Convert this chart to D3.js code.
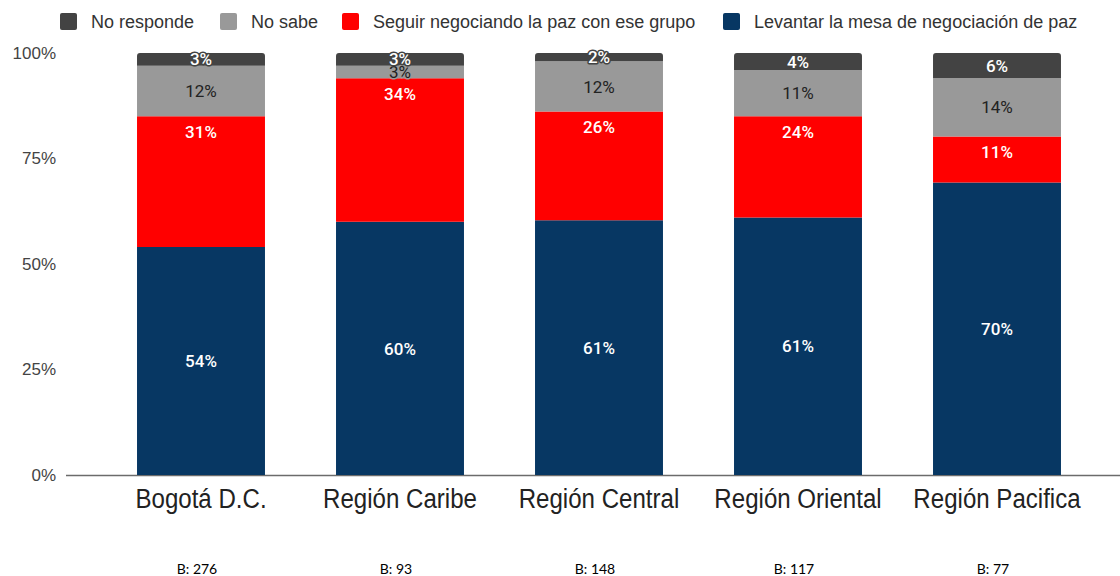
<!DOCTYPE html>
<html><head><meta charset="utf-8">
<script src="https://cdn.jsdelivr.net/npm/d3@7"></script>
<style>body{margin:0;background:#fff}</style>
</head><body><svg id="c" width="1120" height="576"></svg>
<script>
const categories = ["Bogotá D.C.","Región Caribe","Región Central","Región Oriental","Región Pacifica"];
const bases = ["B: 276","B: 93","B: 148","B: 117","B: 77"];
const seriesNames = ["Levantar la mesa de negociación de paz","Seguir negociando la paz con ese grupo","No sabe","No responde"];
const levantar = [54,60,61,61,70];
const seguir = [31,34,26,24,11];
const noSabe = [12,3,12,11,14];
const noResponde = [3,3,2,4,6];
const yTicks = [0,0.25,0.5,0.75,1];

const colors = ["#073763","#ff0000","#999999","#434343"];
const labelColors = ["#ffffff","#ffffff","#222222","#ffffff"];
const seriesValues = [levantar, seguir, noSabe, noResponde];
const keys = ["s0","s1","s2","s3"];

const rows = categories.map((c,i)=>{
  const r = {cat:c};
  keys.forEach((k,j)=> r[k] = seriesValues[j][i]);
  return r;
});

const svg = d3.select("#c");
const y = d3.scaleLinear().domain([0,1]).range([475,53]);
const x = d3.scaleBand().domain(categories).range([101.5,1096.5]).paddingInner(0.357).paddingOuter(0.1785);

const stack = d3.stack().keys(keys).offset(d3.stackOffsetExpand);
const series = stack(rows);

// baseline
svg.append("line").attr("x1",66).attr("x2",1120).attr("y1",y(0)+0.5).attr("y2",y(0)+0.5)
  .attr("stroke","#6b6b6b").attr("stroke-width",1.5);

// y axis labels
const yAxis = d3.axisLeft(y).tickValues(yTicks).tickFormat(d3.format(".0%")).tickSize(0).tickPadding(0);
const ga = svg.append("g").attr("transform","translate(56,0)").call(yAxis);
ga.select(".domain").remove();
ga.selectAll("text").attr("font-family","'Liberation Sans', Arial, sans-serif").attr("font-size",17).attr("fill","#444");

function topRounded(x0,y0,w,h,r){
  return `M${x0},${y0+h}V${y0+r}Q${x0},${y0} ${x0+r},${y0}H${x0+w-r}Q${x0+w},${y0} ${x0+w},${y0+r}V${y0+h}Z`;
}

series.forEach((s,si)=>{
  svg.append("g").selectAll("path").data(s).join("path")
    .attr("d", d => {
      const x0 = x(d.data.cat), w = x.bandwidth();
      const yt = y(d[1]), yb = y(d[0]);
      if (si === keys.length-1) return topRounded(x0,yt,w,yb-yt,3);
      return `M${x0},${yt}H${x0+w}V${yb}H${x0}Z`;
    })
    .attr("fill", colors[si]);
});

series.forEach((s,si)=>{
  svg.append("g").selectAll("text").data(s).join("text")
    .attr("x", d => x(d.data.cat) + x.bandwidth()/2)
    .attr("y", d => si === 1 ? y(d[1]) + 15.5 : (y(d[0])+y(d[1]))/2)
    .attr("dy","0.36em")
    .attr("text-anchor","middle")
    .attr("font-family","Roboto, sans-serif")
    .attr("font-size",17)
    .attr("font-weight", si===2 ? 400 : 500)
    .attr("fill", labelColors[si])
    .attr("stroke", colors[si])
    .attr("stroke-width", 3)
    .attr("stroke-linejoin","round")
    .attr("paint-order","stroke")
    .text(d => d.data[keys[si]] + "%");
});

// x labels
svg.append("g").selectAll("text").data(categories).join("text")
  .attr("transform", d => `translate(${x(d)+x.bandwidth()/2},508) scale(0.86,1)`)
  .attr("text-anchor","middle")
  .attr("font-family","'Liberation Sans', Arial, sans-serif")
  .attr("font-size",28)
  .attr("fill","#222")
  .text(d=>d);

// base labels
svg.append("g").selectAll("text").data(categories).join("text")
  .attr("x", d => x(d)+x.bandwidth()/2 - 4)
  .attr("y", 574)
  .attr("text-anchor","middle")
  .attr("font-family","Lato, 'Open Sans', sans-serif")
  .attr("font-size",14)
  .attr("fill","#000")
  .text((d,i)=>bases[i]);

// legend
const legendOrder = [3,2,1,0];
const legendX = [60,220,342,723];
const lg = svg.append("g");
legendOrder.forEach((si,k)=>{
  lg.append("rect").attr("x",legendX[k]).attr("y",13).attr("width",17).attr("height",17).attr("rx",2)
    .attr("fill",colors[si]);
  lg.append("text").attr("x",legendX[k]+31).attr("y",27.5)
    .attr("font-family","'Liberation Sans', Arial, sans-serif")
    .attr("font-size",18).attr("fill","#333")
    .text(seriesNames[si]);
});
</script></body></html>
